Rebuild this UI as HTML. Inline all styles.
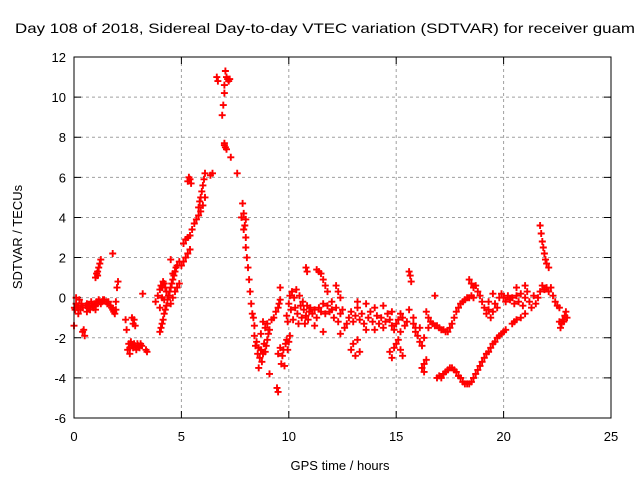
<!DOCTYPE html>
<html><head><meta charset="utf-8"><style>
body{margin:0;background:#fff}
svg{display:block;font-family:"Liberation Sans",sans-serif}
</style></head><body>
<svg id="chart" width="640" height="480">
<text x="325" y="33" text-anchor="middle" font-size="14" textLength="620" lengthAdjust="spacingAndGlyphs">Day 108 of 2018, Sidereal Day-to-day VTEC variation (SDTVAR) for receiver guam</text>
<text transform="translate(22,237) rotate(-90)" text-anchor="middle" font-size="13">SDTVAR / TECUs</text>
<text x="340" y="470" text-anchor="middle" font-size="13">GPS time / hours</text>
<g id="grid"></g>
<g id="marks"></g>
<rect x="74" y="57" width="537" height="361" fill="none" stroke="#000" stroke-width="1"/>
</svg>
<script>
const xTicks=[0,5,10,15,20,25];
const yTicks=[-6,-4,-2,0,2,4,6,8,10,12];
const series=[
[0,-1.4],[0.02,-0.5],[0.05,-0.6],[0.1,-0.3],[0.15,-0.5],[0.2,-0.4],[0.25,-0.1],[0.3,-0.6],[0.35,-0.3],[0.4,-0.5],[0.45,-1.6],[0.5,-1.9],[0.55,-0.4],[0.6,-0.3],[0.65,-0.5],[0.7,-0.4],[0.75,-0.6],[0.8,-0.3],[0.85,-0.4],[0.9,-0.5],[0.95,-0.3],[1.0,-0.4],[1.05,-0.2],[1.1,-0.3],[1.15,-0.1],[1.2,-0.2],[1.25,-0.3],[1.3,-0.2],[1.35,-0.1],
[0.1,0.0],[0.2,-0.8],[0.4,-1.7],[0.6,-0.7],[0.8,-0.2],[1.0,-0.6],
[1.0,1.0],[1.05,1.2],[1.1,1.3],[1.15,1.5],[1.2,1.7],[1.25,1.9],[1.1,1.1],
[1.4,-0.1],[1.5,-0.2],[1.55,-0.3],[1.6,-0.2],[1.7,-0.4],[1.75,-0.5],[1.8,-0.6],[1.85,-0.7],
[1.8,2.2],[1.9,-0.8],[1.95,-0.6],[2.0,0.5],[2.05,0.8],[1.95,-0.2],
[2.4,-1.1],[2.45,-1.6],[2.5,-2.6],[2.55,-2.3],[2.6,-2.5],[2.65,-2.2],[2.7,-2.4],[2.75,-2.5],[2.8,-2.3],[2.85,-2.4],[2.9,-2.6],[2.95,-2.3],[3.0,-2.4],[3.05,-2.5],[3.1,-2.3],[3.15,-2.4],[2.6,-2.8],[2.7,-1.0],[2.75,-1.3],[2.8,-1.1],[2.85,-1.4],[3.2,0.2],[3.35,-2.6],[3.4,-2.7],
[3.8,-0.2],[3.9,0.1],[4.0,0.4],[4.05,0.6],[4.1,0.5],[4.15,0.8],[4.2,0.7],[4.25,0.5],[4.3,0.3],[4.0,-0.5],[4.1,0.0],[4.2,-0.1],
[4.0,-1.7],[4.05,-1.5],[4.1,-1.3],[4.15,-1.1],[4.2,-0.8],[4.25,-0.6],[4.3,-0.4],[4.35,-0.1],[4.4,0.1],[4.45,0.3],[4.5,0.5],[4.55,0.7],[4.6,0.9],[4.65,1.1],[4.7,1.3],[4.75,1.5],[4.8,1.6],[4.9,1.8],[4.5,-0.3],[4.6,0.0],[4.7,0.3],[4.8,0.5],[4.9,0.7],[4.5,1.9],[4.6,1.2],
[5.0,1.6],[5.1,1.8],[5.2,2.0],[5.3,2.2],[5.4,2.4],
[5.1,2.7],[5.2,2.9],[5.3,3.0],[5.4,3.1],[5.5,3.4],[5.6,3.7],[5.7,3.9],[5.8,4.1],[5.9,4.3],
[5.3,5.8],[5.35,6.0],[5.4,5.9],[5.45,5.7],
[5.8,4.5],[5.85,4.8],[5.9,5.0],[5.95,5.3],[6.0,5.6],[6.05,5.9],[6.1,6.2],[6.0,4.6],[6.1,5.0],
[6.35,6.1],[6.45,6.2],[6.65,11.0],[6.7,10.8],
[6.9,9.1],[6.95,9.6],[7.0,10.2],[7.0,10.6],[7.05,11.3],[7.1,11.0],[7.15,10.9],[7.2,10.8],[7.25,10.9],[7.0,7.7],[7.05,7.5],[7.1,7.4],[7.0,7.6],[7.3,7.0],[7.6,6.2],
[7.8,4.0],[7.85,4.7],[7.9,4.2],[7.95,3.6],[8.0,3.0],[8.0,2.5],[8.05,2.0],[8.1,1.5],[8.15,0.9],[8.2,0.3],[8.25,-0.3],[8.3,-0.8],[8.35,-1.0],[8.4,-1.4],[7.9,3.4],[8.0,3.9],
[8.4,-1.9],[8.45,-2.4],[8.5,-2.2],[8.55,-2.8],[8.6,-2.5],[8.65,-3.0],[8.7,-2.6],[8.75,-3.2],[8.8,-2.8],[8.85,-2.3],[8.9,-2.7],[8.95,-2.4],[9.0,-2.1],[9.05,-1.8],[9.1,-1.6],[8.6,-3.5],[8.7,-1.8],[8.8,-1.2],[8.9,-1.5],[9.0,-1.3],[9.2,-1.1],[9.3,-1.0],[9.4,-0.7],[9.5,-0.5],[9.55,-0.3],[9.6,-0.1],[9.1,-3.8],
[9.45,-4.5],[9.5,-4.7],
[9.5,-2.8],[9.6,-2.5],[9.65,-3.3],[9.7,-2.9],[9.75,-2.6],[9.8,-3.4],[9.85,-2.3],[9.9,-2.1],[9.95,-2.6],[10.0,-2.2],[10.05,-1.9],[9.6,0.5],
[9.9,-0.9],[9.95,-1.2],[10.0,-0.3],[10.05,0.1],[10.1,-0.6],[10.15,0.3],[10.2,-1.1],[10.25,0.0],[10.3,-0.5],[10.35,0.4],[10.4,-0.8],[10.45,-1.3],[10.5,0.1],[10.55,-0.4],[10.6,-1.0],[10.65,-0.2],[10.7,-0.6],[10.75,-1.3],[10.8,-0.9],[10.85,-0.4],[10.9,-1.1],[10.95,-0.7],[11.0,-0.5],
[10.8,1.5],[10.85,1.3],[11.3,1.4],[11.4,1.3],[11.5,1.2],
[11.1,-0.8],[11.2,-0.6],[11.3,-1.0],[11.4,-0.5],[11.5,-0.7],[11.6,-0.3],[11.7,-0.8],[11.8,-0.4],[11.9,-0.7],[12.0,-0.6],[12.1,-1.0],[12.2,-0.5],[12.3,-1.2],[12.4,-0.8],[12.5,-0.6],[12.6,-1.5],[12.7,-1.3],[12.8,-1.0],[12.9,-0.7],[13.0,-1.2],[13.1,-0.9],[13.2,-0.5],[13.3,-1.1],[13.4,-0.8],[13.5,-1.3],[13.6,-1.6],[13.7,-1.0],[13.8,-0.7],[13.9,-1.2],[14.0,-0.5],[14.1,-0.9],[14.2,-1.3],[14.3,-1.0],[14.4,-1.5],[14.5,-1.2],[14.6,-0.8],[14.7,-1.1],[14.8,-1.4],[14.9,-1.6],[15.0,-1.3],[15.1,-1.1],[15.2,-0.8],[15.3,-1.0],[15.4,-1.4],[15.5,-1.2],
[11.2,-1.4],[11.6,-1.7],[12.0,-0.2],[12.4,-1.8],[13.2,-0.2],[13.6,-0.3],[14.0,-1.6],[14.4,-0.4],[14.8,-0.7],[15.2,-1.7],[15.6,-0.6],[15.8,-1.0],[15.9,-1.5],
[11.6,0.9],[11.7,0.6],[11.8,0.3],[12.2,0.6],[12.3,0.3],[12.4,0.0],
[12.9,-2.6],[13.0,-2.3],[13.1,-2.9],[13.2,-2.1],[13.3,-2.7],
[14.7,-2.7],[14.8,-3.0],[14.9,-2.5],[15.0,-2.3],[15.1,-2.1],[15.2,-2.6],[15.3,-2.9],
[15.6,1.3],[15.65,1.1],[15.7,0.8],
[15.8,-1.3],[15.9,-1.7],[16.0,-1.9],[16.1,-2.2],[16.2,-2.4],[16.1,-1.5],[16.3,-2.0],
[16.2,-3.5],[16.3,-3.3],[16.4,-3.1],[16.3,-3.7],[16.8,0.1],
[16.4,-0.7],[16.5,-1.0],[16.6,-1.2],[16.7,-1.3],[16.8,-1.4],[16.9,-1.4],[17.0,-1.5],[17.1,-1.6],[17.2,-1.6],[17.3,-1.7],[17.4,-1.7],[16.5,-1.5],
[17.5,-1.5],[17.6,-1.3],[17.7,-1.0],[17.8,-0.7],[17.9,-0.5],[18.0,-0.3],[18.1,-0.2],[18.2,-0.1],[18.3,0.0],[18.4,0.0],[18.5,0.1],[18.6,0.0],
[18.4,0.9],[18.5,0.7],[18.6,0.5],[18.7,0.6],[18.8,0.3],
[18.9,0.1],[19.0,-0.2],[19.1,-0.5],[19.2,-0.8],[19.3,-0.6],[19.4,-1.0],[19.5,-0.7],[19.6,-0.3],[19.7,-0.5],[19.8,0.0],[19.3,-0.2],[19.5,0.2],
[19.9,0.2],[20.0,0.0],[20.1,-0.2],[20.2,0.1],[20.3,-0.1],[20.4,0.0],[20.5,-0.3],[20.6,0.1],[20.7,-0.2],[20.8,0.2],[20.9,-0.4],[21.0,0.0],[21.1,0.3],[21.2,-0.2],[21.3,-0.5],[21.4,0.1],[21.5,-0.3],[21.6,0.0],[21.7,0.3],[20.6,0.5],[21.0,0.6],
[20.4,-1.3],[20.5,-1.2],[20.6,-1.1],[20.8,-1.0],[21.0,-0.8],
[21.7,3.6],[21.75,3.2],[21.8,2.8],[21.85,2.5],[21.9,2.2],[21.95,1.9],[22.0,1.7],[22.1,1.5],
[21.8,0.6],[21.9,0.4],[22.0,0.5],[22.1,0.3],[22.2,0.5],[22.3,0.1],[22.4,-0.2],[22.5,-0.4],[22.6,-0.5],
[22.6,-1.2],[22.65,-1.5],[22.7,-1.3],[22.75,-1.1],[22.8,-1.2],[22.85,-0.9],[22.9,-0.7],[22.95,-1.0],
[16.9,-4.0],[17.0,-3.9],[17.1,-4.0],[17.2,-3.8],[17.3,-3.7],[17.4,-3.6],[17.5,-3.5],[17.6,-3.5],[17.7,-3.6],[17.8,-3.7],[17.9,-3.9],[18.0,-4.0],[18.1,-4.2],[18.2,-4.3],[18.3,-4.3],[18.4,-4.3],[18.5,-4.2],[18.6,-4.0],[18.7,-3.8],[18.8,-3.6],[18.9,-3.4],[19.0,-3.2],[19.1,-3.0],[19.2,-2.8],[19.3,-2.7],[19.4,-2.5],[19.5,-2.3],[19.6,-2.2],[19.7,-2.0],[19.8,-1.9],[19.9,-1.8],[20.0,-1.7],[20.1,-1.6]
];
const NS='http://www.w3.org/2000/svg';
const L=74,R=611,T=57,B=418;
function xs(t){return L+(t-0)/(25-0)*(R-L);}
function ys(v){return B-(v-(-6))/(12-(-6))*(B-T);}
const grid=document.getElementById('grid');
function mk(tag,attrs,parent){const e=document.createElementNS(NS,tag);for(const k in attrs)e.setAttribute(k,attrs[k]);parent.appendChild(e);return e;}
xTicks.forEach(t=>{
  const x=xs(t);
  if(t>0&&t<25){const g=mk('line',{x1:x,x2:x,y1:T,y2:B,stroke:'#a0a0a0','stroke-dasharray':'3,3'},grid);
  
  }
  const tk=mk('path',{d:`M${x},${B}v-7M${x},${T}v7`,stroke:'#000'},grid);
  
  
  const lb=mk('text',{x:x,y:B+23,'text-anchor':'middle','font-size':13},grid);
  lb.textContent=t;
  
  
});
yTicks.forEach(v=>{
  const y=ys(v);
  if(v>-6&&v<12){const g=mk('line',{x1:L,x2:R,y1:y,y2:y,stroke:'#a0a0a0','stroke-dasharray':'3,3'},grid);
  
  }
  const tk=mk('path',{d:`M${L},${y}h7M${R},${y}h-7`,stroke:'#000'},grid);
  
  
  const lb=mk('text',{x:L-8,y:y+5,'text-anchor':'end','font-size':13},grid);
  lb.textContent=v;
  
  
});
const marks=document.getElementById('marks');
let d='';
series.forEach(p=>{const x=xs(p[0]),y=ys(p[1]);d+=`M${(x-3.5).toFixed(1)},${y.toFixed(1)}h7M${x.toFixed(1)},${(y-3.5).toFixed(1)}v7`;});
const pts=mk('path',{d:d,stroke:'#ff0000','stroke-width':1.9,fill:'none'},marks);


</script>
</body></html>
